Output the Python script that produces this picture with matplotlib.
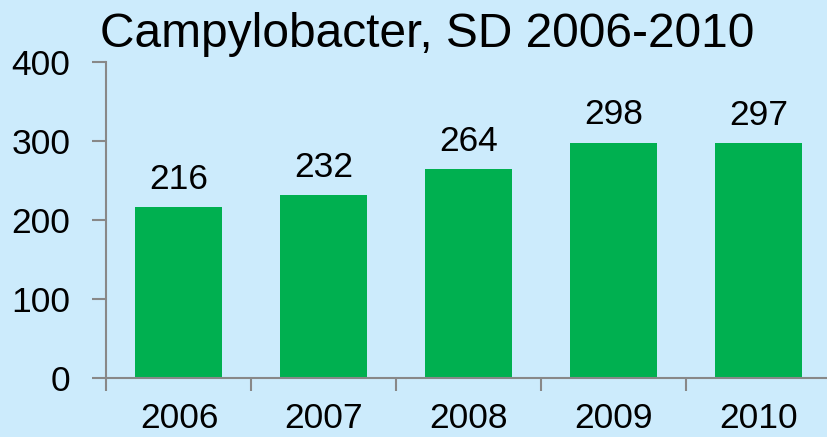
import matplotlib
matplotlib.use("Agg")
import matplotlib.pyplot as plt
import numpy as np

years = ["2006", "2007", "2008", "2009", "2010"]
cases = [216, 232, 264, 298, 297]
title = "Campylobacter, SD 2006-2010"

bg = "#CCEBFC"
green = "#00B050"
grey = "#888888"

plt.rcParams['font.family'] = ['Liberation Sans', 'DejaVu Sans']
fig = plt.figure(figsize=(8.28, 4.37), dpi=100, facecolor=bg)
ax = fig.add_axes([106.5/828, 59/437, 725/828, 316/437])
ax.set_facecolor(bg)
x = np.arange(len(years))
ax.bar(x, cases, width=0.6, color=green, zorder=2)
ax.set_xlim(-0.5, len(years) - 0.5)
ax.set_ylim(0, 400)
ax.set_yticks([0, 100, 200, 300, 400])
ax.set_xticks(x)
ax.set_xticklabels(years)
ax.set_xticks(np.arange(-0.5, len(years), 1.0), minor=True)
ax.tick_params(axis='x', which='major', length=0, pad=17, labelsize=25.5)
ax.tick_params(axis='x', which='minor', length=9, width=1.5, color=grey, direction='out')
ax.tick_params(axis='y', length=10, width=1.5, color=grey, labelsize=25.5, pad=16)
for s in ['top', 'right']:
    ax.spines[s].set_visible(False)
for s in ['left', 'bottom']:
    ax.spines[s].set_color(grey)
    ax.spines[s].set_linewidth(1.5)
for xi, v in zip(x, cases):
    ax.annotate(str(v), (xi, v), xytext=(0, 8), textcoords='offset points',
                ha='center', va='bottom', fontsize=25.5)
fig.text(100/828, 1 - 12/437, title, ha='left', va='top', fontsize=34.5)
fig.savefig("out.png", dpi=100, facecolor=bg)
